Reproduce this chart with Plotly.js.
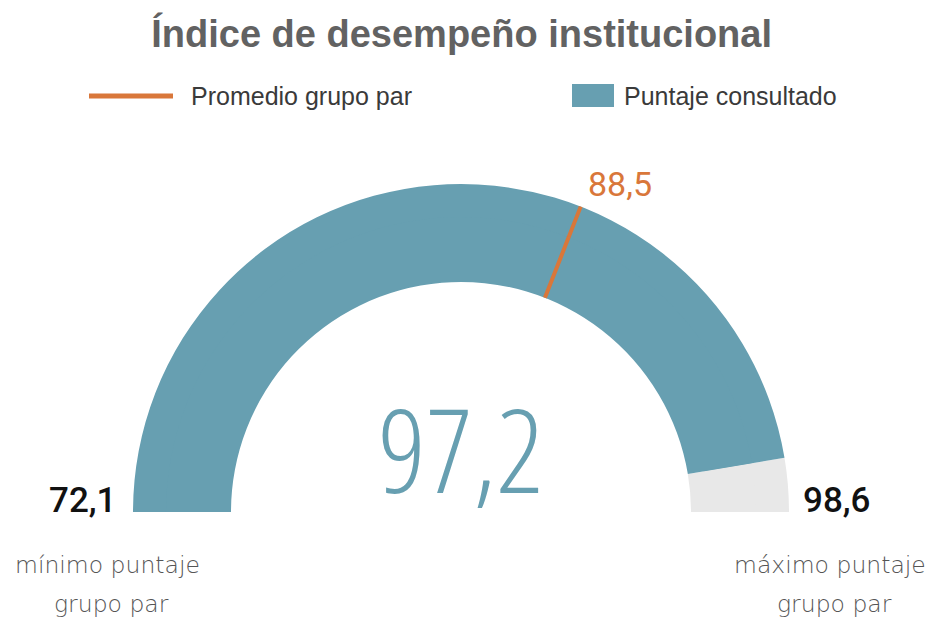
<!DOCTYPE html>
<html>
<head>
<meta charset="utf-8">
<script src="https://cdn.plot.ly/plotly-3.0.1.min.js"></script>
<style>
html,body{margin:0;padding:0;background:#fff;overflow:hidden;}
#chart{width:927px;height:618px;}
/* condensed light face for the big central number */
#chart .annotation[data-index="0"] text{font-stretch:77%;}
</style>
</head>
<body>
<div id="chart"></div>
<script>
// ---- data ----
const chartTitle = ['Índice de desempeño institucional'];
const seriesNames = ['Promedio grupo par', 'Puntaje consultado'];
const gaugeRange = [72.1, 98.6];          // mínimo / máximo puntaje grupo par
const scoreValue = [97.2];                // puntaje consultado
const peerAverage = [88.5];               // promedio grupo par
const minLabelLines = ['mínimo puntaje', 'grupo par'];
const maxLabelLines = ['máximo puntaje', 'grupo par'];

// ---- styles ----
const TEAL = '#679FB1';
const ORANGE = '#D9773A';
const GREY = '#E8E8E8';
const W = 927, H = 618;
const fmt = v => v.toFixed(1).replace('.', ',');
const px = x => x / W;
const py = y => 1 - y / H;

const remaining = [scoreValue[0], gaugeRange[1]];

// outer gauge ring (radius ~328 px)
const outer = {
  type: 'indicator',
  mode: 'gauge',
  value: scoreValue[0],
  domain: {x: [px(121), px(801)], y: [py(512), py(184)]},
  gauge: {
    shape: 'angular',
    axis: {range: gaugeRange, visible: false},
    bgcolor: 'rgba(0,0,0,0)',
    borderwidth: 0,
    steps: [{range: remaining, color: GREY, thickness: 1}],
    bar: {color: TEAL, thickness: 1},
    threshold: {value: peerAverage[0], thickness: 1, line: {color: ORANGE, width: 4}}
  }
};
// inner band so the ring is as thick as in the reference (~230..328 px)
const inner = {
  type: 'indicator',
  mode: 'gauge',
  value: scoreValue[0],
  domain: {x: [px(121), px(801)], y: [py(512), py(212)]},
  gauge: {
    shape: 'angular',
    axis: {range: gaugeRange, visible: false},
    bgcolor: 'rgba(0,0,0,0)',
    borderwidth: 0,
    steps: [{range: remaining, color: GREY, thickness: 0.8667}],
    bar: {color: TEAL, thickness: 0.8667},
    threshold: {value: peerAverage[0], thickness: 0.8667, line: {color: ORANGE, width: 4}}
  }
};

const legendFont = {family: 'Liberation Sans, Arial, sans-serif', size: 25, color: '#3A3A3A'};
const endFont = {family: 'Roboto, sans-serif', size: 35, weight: 500, color: '#111111'};
const subFont = {family: 'DejaVu Sans, sans-serif', size: 23.5, weight: 200, color: '#555555'};

const annotations = [
  {text: fmt(scoreValue[0]), x: px(461), y: py(447), xanchor: 'center', yanchor: 'middle',
   font: {family: 'Open Sans, sans-serif', size: 117, weight: 300, color: TEAL}},
  {text: seriesNames[0], x: px(189), y: py(96), xanchor: 'left', yanchor: 'middle', font: legendFont},
  {text: seriesNames[1], x: px(622), y: py(96), xanchor: 'left', yanchor: 'middle', font: legendFont},
  {text: fmt(peerAverage[0]), x: px(620), y: py(184), xanchor: 'center', yanchor: 'middle',
   font: {family: 'Roboto, sans-serif', size: 34, color: ORANGE}},
  {text: fmt(gaugeRange[0]), x: px(119), y: py(500), xanchor: 'right', yanchor: 'middle', font: endFont},
  {text: fmt(gaugeRange[1]), x: px(801), y: py(500), xanchor: 'left', yanchor: 'middle', font: endFont},
  {text: minLabelLines[0], x: px(107), y: py(565), xanchor: 'center', yanchor: 'middle', font: subFont},
  {text: minLabelLines[1], x: px(111), y: py(604), xanchor: 'center', yanchor: 'middle', font: subFont},
  {text: maxLabelLines[0], x: px(830), y: py(565), xanchor: 'center', yanchor: 'middle', font: subFont},
  {text: maxLabelLines[1], x: px(834), y: py(604), xanchor: 'center', yanchor: 'middle', font: subFont}
].map(a => Object.assign({xref: 'paper', yref: 'paper', showarrow: false}, a));

const shapes = [
  {type: 'line', xref: 'paper', yref: 'paper', x0: px(89), x1: px(173), y0: py(96), y1: py(96),
   line: {color: ORANGE, width: 5}},
  {type: 'rect', xref: 'paper', yref: 'paper', x0: px(572), x1: px(614), y0: py(107), y1: py(84),
   fillcolor: TEAL, line: {width: 0}}
];

const layout = {
  width: W, height: H,
  margin: {l: 0, r: 0, t: 0, b: 0},
  paper_bgcolor: '#ffffff',
  separators: ',.',
  title: {text: chartTitle[0], x: 0.498, xanchor: 'center', y: py(34), yanchor: 'middle', yref: 'container',
          font: {family: 'Liberation Sans, Arial, sans-serif', size: 38, weight: 'bold', color: '#626262'}},
  annotations: annotations,
  shapes: shapes,
  showlegend: false
};

Plotly.newPlot('chart', [outer, inner], layout, {displayModeBar: false, staticPlot: true});
</script>
</body>
</html>
